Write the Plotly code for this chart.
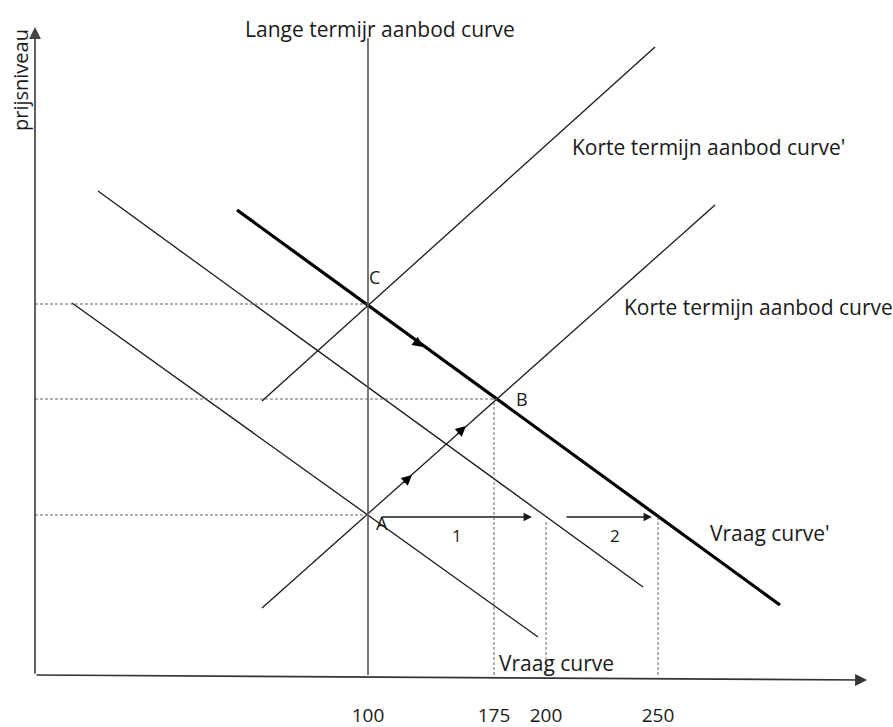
import plotly.graph_objects as go

# Schematic coordinates (origin at the axes corner)
# Demand curves: (x0, y0, x1, y1)
demand_0 = [37, 372, 503, 38]      # Vraag curve
demand_1 = [63, 484, 608, 88]      # intermediate demand
demand_2 = [202, 465, 745, 70]     # Vraag curve' (thick)
# Short-run supply curves
sras_0 = [227, 67, 680, 470]       # Korte termijn aanbod curve
sras_1 = [227, 274, 620, 628]      # Korte termijn aanbod curve'
# Long-run supply (vertical)
lras_x = 333
lras_y = [0, 637]

# Equilibrium points
pts_name = ["A", "B", "C"]
pts_x = [333, 462, 333]
pts_y = [160, 276, 371]

# Quantity markers on the x axis
q_pos = [333, 459, 511, 623]
q_top = [160, 276, 155, 160]
q_labels = ["100", "175", "200", "250"]

# Shift arrows (1 and 2)
shift_names = ["1", "2"]
shift_x0 = [345, 530]
shift_x1 = [497, 617]
shift_y = 158

INK = "#1a1a1a"
GREY = "#666666"
FONT = "Open Sans"

fig = go.Figure()

def seg(c, width, color=INK, dash=None):
    fig.add_trace(go.Scatter(x=[c[0], c[2]], y=[c[1], c[3]], mode="lines",
                             line=dict(color=color, width=width, dash=dash),
                             hoverinfo="skip", showlegend=False, cliponaxis=False))

seg(demand_0, 1.3)
seg(demand_1, 1.3)
seg(demand_2, 3.2, "#000000")
seg(sras_0, 1.3)
seg(sras_1, 1.3)
seg([lras_x, lras_y[0], lras_x, lras_y[1]], 1.6, "#555555")

# dashed guides
DASH = "3px,2px"
for name, x, y in zip(pts_name, pts_x, pts_y):
    seg([0, y, x, y], 1, GREY, DASH)
for x, yt in zip(q_pos[1:], q_top[1:]):
    seg([x, 0, x, yt], 1, GREY, DASH)

# axes with arrows
fig.add_annotation(x=0, y=648, ax=0, ay=0, xref="x", yref="y", axref="x", ayref="y",
                   showarrow=True, arrowhead=2, arrowsize=1.4, arrowwidth=1.7,
                   arrowcolor="#444444", text="")
fig.add_annotation(x=832, y=-5, ax=0, ay=0, xref="x", yref="y", axref="x", ayref="y",
                   showarrow=True, arrowhead=2, arrowsize=1.4, arrowwidth=1.7,
                   arrowcolor="#333333", text="")

# shift arrows
for n, x0, x1 in zip(shift_names, shift_x0, shift_x1):
    fig.add_annotation(x=x1, y=shift_y, ax=x0, ay=shift_y, xref="x", yref="y",
                       axref="x", ayref="y", showarrow=True, arrowhead=2,
                       arrowsize=1.3, arrowwidth=1.3, arrowcolor=INK, text="")
    fig.add_annotation(x=(x0 + x1) / 2 + (1 if n == "1" else 6), y=shift_y - 18,
                       text=n, showarrow=False, font=dict(family=FONT, size=17, color=INK))

# direction arrowheads on curves
def head(x, y, dx, dy):
    fig.add_annotation(x=x, y=y, ax=x - dx, ay=y - dy, xref="x", yref="y",
                       axref="x", ayref="y", showarrow=True, arrowhead=2,
                       arrowsize=1.6, arrowwidth=1.3, arrowcolor="#000000", text="")

head(377, 200, 10, 9)
head(431, 249, 10, 9)
head(388, 328, 10, -7.3)

# point labels
lab_dx = [14, 25, 6]
lab_dy = [-8, 0, 27]
for n, x, y, dx, dy in zip(pts_name, pts_x, pts_y, lab_dx, lab_dy):
    fig.add_annotation(x=x + dx, y=y + dy, text=n, showarrow=False,
                       font=dict(family=FONT, size=18, color=INK))

# curve labels
labels = [
    ("Lange termijr aanbod curve", 345, 646, "center"),
    ("Korte termijn aanbod curve'", 535, 528, "left"),
    ("Korte termijn aanbod curve", 587, 368, "left"),
    ("Vraag curve'", 673, 142, "left"),
    ("Vraag curve", 462, 12, "left"),
]
for t, x, y, anc in labels:
    fig.add_annotation(x=x, y=y, text=t, showarrow=False, xanchor=anc,
                       font=dict(family=FONT, size=21, color=INK))

fig.add_annotation(x=-15, y=603, text="prijsniveau", textangle=-90, showarrow=False,
                   yshift=-8, font=dict(family=FONT, size=20, color=INK))
fig.add_annotation(x=770, y=-38, text="productie", showarrow=False,
                   font=dict(family=FONT, size=20, color=INK))

fig.update_layout(
    width=893, height=727,
    margin=dict(l=0, r=0, t=0, b=47),
    paper_bgcolor="white", plot_bgcolor="white",
    showlegend=False,
    xaxis=dict(range=[-35, 858], showgrid=False, zeroline=False, showline=False,
               tickmode="array", tickvals=q_pos, ticktext=q_labels,
               ticks="", ticklabelstandoff=22,
               tickfont=dict(family=FONT, size=19, color=INK)),
    yaxis=dict(range=[-5, 675], showgrid=False, zeroline=False, showline=False,
               showticklabels=False),
)

fig.write_html("out.html", config={"displayModeBar": False},
               post_script="document.body.style.margin='0px';document.body.style.overflow='hidden';")
